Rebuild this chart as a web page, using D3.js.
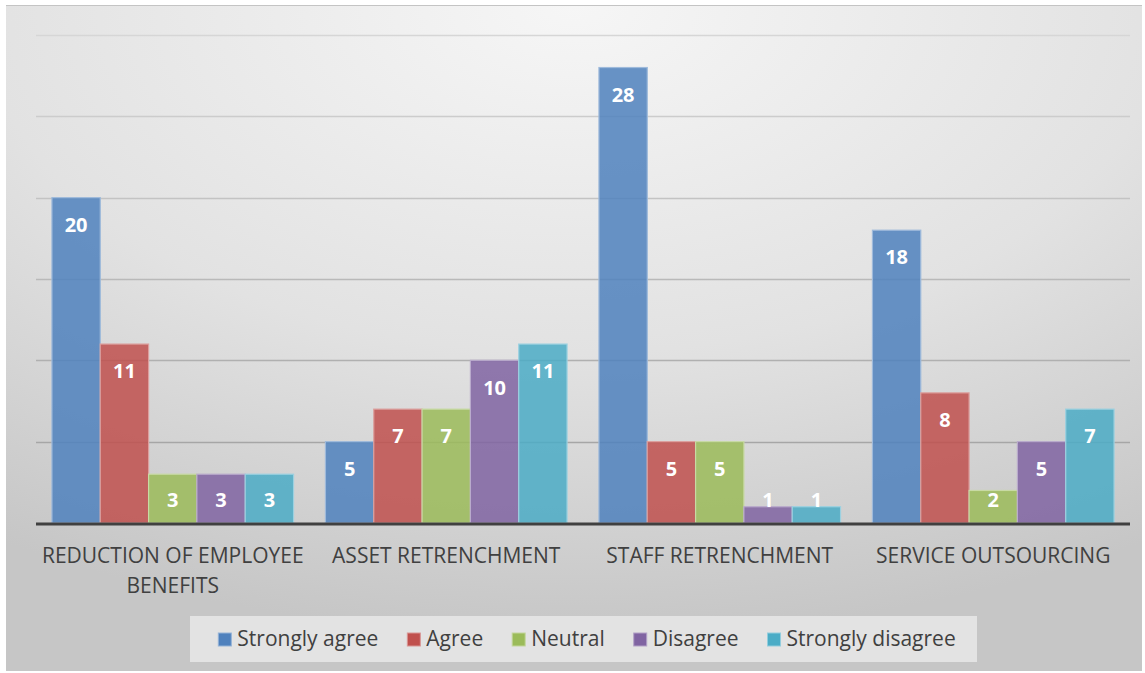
<!DOCTYPE html>
<html>
<head>
<meta charset="utf-8">
<script src="https://cdn.jsdelivr.net/npm/d3@7"></script>
<style>
  html, body { margin: 0; padding: 0; background: #ffffff; }
  svg { display: block; }
  text { font-family: "Open Sans", Lato, sans-serif; }
</style>
</head>
<body>
<svg id="chart" width="1145" height="673"></svg>
<script>
// Survey responses per cost-cutting measure
const categories = [
  ["REDUCTION OF EMPLOYEE", "BENEFITS"],
  ["ASSET RETRENCHMENT"],
  ["STAFF RETRENCHMENT"],
  ["SERVICE OUTSOURCING"]
];
const seriesNames = ["Strongly agree", "Agree", "Neutral", "Disagree", "Strongly disagree"];
const stronglyAgree    = [20, 5, 28, 18];
const agree            = [11, 7, 5, 8];
const neutral          = [3, 7, 5, 2];
const disagree         = [3, 10, 1, 5];
const stronglyDisagree = [3, 11, 1, 7];
const yTicks = [0, 5, 10, 15, 20, 25, 30];

const seriesValues = [stronglyAgree, agree, neutral, disagree, stronglyDisagree];
const colors = ["#4f81bd", "#c0504d", "#9bbb59", "#8064a2", "#4bacc6"];

const svg = d3.select("#chart");

// Chart area background: soft light-grey shading
const defs = svg.append("defs");
const bg = defs.append("radialGradient").attr("id", "bgGrad")
  .attr("cx", "50%").attr("cy", "0%").attr("r", "95%")
  .attr("fx", "50%").attr("fy", "0%");
bg.append("stop").attr("offset", "0%").attr("stop-color", "#f6f6f6");
bg.append("stop").attr("offset", "55%").attr("stop-color", "#e2e2e2");
bg.append("stop").attr("offset", "100%").attr("stop-color", "#c6c6c6");

svg.append("rect").attr("x", 6).attr("y", 5).attr("width", 1136).attr("height", 666)
  .attr("fill", "url(#bgGrad)");
svg.append("line").attr("x1", 6).attr("x2", 1142).attr("y1", 5.5).attr("y2", 5.5)
  .attr("stroke", "#c4c4c4").attr("stroke-width", 1);

const plot = { left: 36, right: 1130, top: 35, bottom: 523 };

const y = d3.scaleLinear().domain([0, 30]).range([plot.bottom, plot.top]);
const x0 = d3.scaleBand().domain(d3.range(categories.length))
  .range([plot.left, plot.right]).paddingInner(0).paddingOuter(0);
const x1 = d3.scaleBand().domain(d3.range(seriesNames.length))
  .range([0, x0.bandwidth()]).paddingInner(0).paddingOuter(0.33);

// Horizontal gridlines
const gridColor = d3.scaleLinear().domain([5, 30]).range(["#a6a6a6", "#d6d6d6"]);
svg.append("g").selectAll("line").data(yTicks.filter(t => t > 0)).join("line")
  .attr("x1", plot.left).attr("x2", plot.right)
  .attr("y1", d => Math.round(y(d)) + 0.5).attr("y2", d => Math.round(y(d)) + 0.5)
  .attr("stroke", d => gridColor(d)).attr("stroke-width", 1.5);

// Bars with value labels
const groups = svg.append("g").selectAll("g").data(categories).join("g")
  .attr("transform", (d, i) => `translate(${x0(i)},0)`);

groups.each(function(cat, ci) {
  const g = d3.select(this);
  const vals = seriesValues.map((s, si) => ({ si, v: s[ci] }));
  g.selectAll("rect").data(vals).join("rect")
    .attr("x", d => x1(d.si))
    .attr("y", d => y(d.v))
    .attr("width", x1.bandwidth())
    .attr("height", d => y(0) - y(d.v))
    .attr("fill", d => colors[d.si])
    .attr("fill-opacity", 0.85)
    .attr("stroke", d => d3.interpolateRgb(colors[d.si], "#ffffff")(0.45))
    .attr("stroke-width", 1.2);
  g.selectAll("text").data(vals).join("text")
    .attr("x", d => x1(d.si) + x1.bandwidth() / 2)
    .attr("y", d => Math.min(y(d.v) + 27, y(0) - 23))
    .attr("dy", "0.36em")
    .attr("text-anchor", "middle")
    .attr("fill", "#ffffff")
    .attr("font-weight", "bold")
    .attr("font-size", 20)
    .text(d => d.v);
});

// Category axis line
svg.append("line").attr("x1", plot.left).attr("x2", plot.right)
  .attr("y1", plot.bottom + 1).attr("y2", plot.bottom + 1)
  .attr("stroke", "#404040").attr("stroke-width", 3);

// Category labels
svg.append("g").selectAll("text").data(categories).join("text")
  .attr("text-anchor", "middle")
  .attr("fill", "#404040")
  .attr("font-size", 21)
  .each(function(lines, i) {
    d3.select(this).selectAll("tspan").data(lines).join("tspan")
      .attr("x", x0(i) + x0.bandwidth() / 2)
      .attr("y", (d, k) => 563 + k * 30)
      .text(d => d);
  });

// Legend
const legend = svg.append("g");
const legendBox = legend.append("rect").attr("fill", "#e3e3e3");
const items = legend.selectAll("g").data(seriesNames).join("g");
items.append("rect").attr("width", 13).attr("height", 13).attr("y", -13)
  .attr("fill", (d, i) => colors[i])
  .attr("stroke", (d, i) => d3.interpolateRgb(colors[i], "#ffffff")(0.4)).attr("stroke-width", 1);
items.append("text").attr("x", 19).attr("y", 0).attr("fill", "#404040")
  .attr("font-size", 21).text(d => d);
const gap = 29;
const widths = [];
items.each(function() { widths.push(this.getBBox().width); });
const total = d3.sum(widths) + gap * (widths.length - 1);
let cx = 587 - total / 2;
items.attr("transform", (d, i) => {
  const t = `translate(${cx},646)`;
  cx += widths[i] + gap;
  return t;
});
legendBox.attr("x", 190).attr("y", 616).attr("width", 787).attr("height", 46);
</script>
</body>
</html>
